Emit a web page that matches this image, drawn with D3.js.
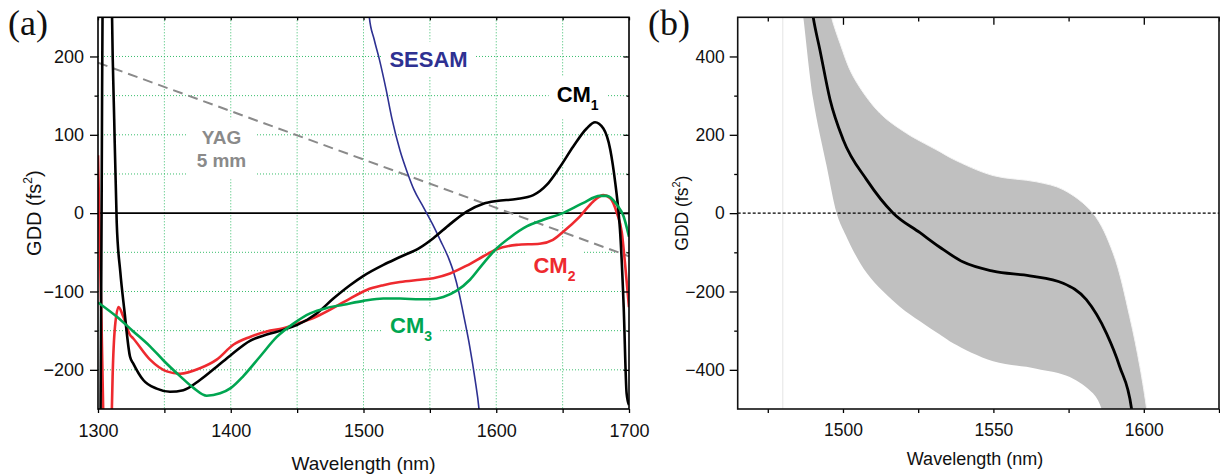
<!DOCTYPE html>
<html><head><meta charset="utf-8">
<script src="https://cdn.jsdelivr.net/npm/d3@7"></script>
<style>
body{margin:0;background:#fff}
svg{display:block}
text{font-family:"Liberation Sans",Arial,Helvetica,sans-serif}
</style>
</head><body>
<svg id="c" width="1220" height="476"></svg>
<script>
// ---------- Panel (a) data: wavelength (nm), GDD (fs^2) ----------
const cm1 = [[1301.5,-400],[1302.7,0],[1303.9,400],[1307,480],[1309.8,380],[1310.6,250],[1312.2,120],[1314.1,-12],[1316.8,-75],[1319.8,-123],[1324.1,-183],[1326.6,-192],[1334.1,-213],[1344.2,-224],[1354.2,-228],[1364.3,-226],[1376.8,-213],[1389.4,-196],[1400.2,-181],[1414.5,-163],[1427.1,-155],[1439.6,-149],[1449.7,-143],[1464.7,-128],[1477.3,-109],[1489.8,-92],[1500,-80],[1515,-66],[1527.5,-56],[1542.6,-44],[1552.6,-32],[1565.2,-14],[1577.7,2],[1590.3,12],[1600.3,15.5],[1615.3,18],[1627.9,23],[1638,36],[1648,59],[1658,85],[1668.1,108],[1674.4,116],[1680.7,108],[1685.9,81],[1689.7,38],[1692.2,0],[1693.2,-21],[1696,-120],[1698.2,-230],[1700,-245]];
const cm2 = [[1300,74],[1302,-90],[1304,-260],[1305,-400],[1309,-400],[1310.3,-260],[1311,-209],[1312.8,-145],[1315.5,-120],[1319,-132],[1324,-155],[1326.6,-160],[1339.2,-187],[1351.8,-202],[1361.8,-205],[1376.8,-198],[1389.4,-187],[1401.9,-168],[1414.5,-158],[1427.1,-151],[1439.6,-147],[1452.2,-140],[1464.7,-132],[1477.3,-121],[1489.8,-109],[1502.4,-98],[1514.9,-92],[1527.5,-88],[1542.6,-85],[1552.6,-83],[1565.2,-77],[1577.7,-67],[1590.3,-55],[1600.3,-46],[1615.3,-40.5],[1632.7,-39],[1642.7,-34],[1650.2,-24],[1663.1,-4],[1673.1,15],[1680.7,23],[1685.9,19],[1690.9,0],[1694.6,-25],[1697,-64],[1700,-120]];
const cm3 = [[1300,-114],[1314,-132],[1326.6,-151],[1339.2,-170],[1349.9,-189],[1361.8,-208],[1371.9,-223],[1381.9,-233],[1392,-230],[1400.2,-223],[1409.5,-208],[1422.1,-183],[1434.7,-158],[1447.2,-141],[1459.8,-128],[1472.3,-121],[1484.9,-117],[1500,-112],[1514.9,-109],[1527.5,-109],[1542.6,-110],[1550.1,-110],[1560.1,-107],[1570.2,-99],[1580.2,-85],[1590.3,-64],[1600.3,-45],[1610.4,-31],[1622.9,-17],[1635.5,-8.5],[1650.2,0],[1665.3,12.8],[1678.1,22],[1683.1,22],[1690.9,10.6],[1695.9,-4],[1700,-30]];
const sesam = [[1502.5,320],[1504.4,250],[1508,222],[1512,196],[1517,158],[1521.5,120],[1527.5,80],[1533,52],[1538,30],[1545,8],[1552,-14],[1558,-35],[1564,-57],[1568,-76],[1572,-102],[1576,-135],[1580,-170],[1584,-212],[1587,-250],[1588.5,-280]];
const yag = [[1300,192],[1700,-55]];

const xTicksA = [1300,1400,1500,1600,1700];
const xMinorA = [1350,1450,1550,1650];
const yTicksA = [-200,-100,0,100,200];
const yMinorA = [-150,-50,50,150];
const xGridA = [1350,1400,1450,1500,1550,1600,1650];
const yGridA = [-200,-150,-100,-50,50,100,150,200];

// ---------- Panel (b) data ----------
const gddMean = [[1489.5,530],[1490.1,500],[1492.3,418],[1495.7,290],[1500.1,187],[1507.9,85],[1516.7,0],[1525.6,-50],[1532.2,-87],[1540,-125],[1549.9,-148],[1562.1,-160],[1573.2,-179],[1580.9,-221],[1587.6,-307],[1592,-392],[1595.9,-498],[1596.3,-530]];
const gddUpper = [[1495.5,530],[1496.2,500],[1499,434],[1503.4,349],[1512.3,255],[1521.1,204],[1525.6,184],[1532.2,157],[1536.6,138],[1549.9,96],[1564.3,80],[1573.2,60],[1583.1,0],[1589.8,-102],[1595.3,-264],[1598.7,-392],[1600.9,-498],[1601.3,-530]];
const gddLower = [[1486.2,530],[1486.8,500],[1490.1,290],[1494.6,119],[1497.9,0],[1500.1,-43],[1507.9,-153],[1518.9,-239],[1525.6,-276],[1532.2,-310],[1536.6,-332],[1549.9,-378],[1564.3,-397],[1575.4,-418],[1583.1,-460],[1585.9,-498],[1586.5,-530]];
const refLineB = [1480];

const xTicksB = [1500,1550,1600];
const xMinorB = [1475,1525,1575,1625];
const yTicksB = [-400,-200,0,200,400];
const yMinorB = [-300,-100,100,300];

// ---------- Setup ----------
const svg = d3.select("#c");

const xa = d3.scaleLinear([1300,1700],[98,629]);
const ya = d3.scaleLinear([-250,250],[409,17.3]);
const xb = d3.scaleLinear([1465,1625],[737.7,1219]);
const yb = d3.scaleLinear([-500,500],[409,17.3]);

const fmt = d3.format("d");

function clip(id, x, y){
  svg.append("clipPath").attr("id", id).append("rect")
    .attr("x", x.range()[0]).attr("y", y.range()[1])
    .attr("width", x.range()[1]-x.range()[0]).attr("height", y.range()[0]-y.range()[1]);
}
clip("ca", xa, ya);
clip("cb", xb, yb);

function axis(gen, tx, ty, fs){
  const g = svg.append("g").attr("transform", `translate(${tx},${ty})`).call(gen);
  g.select(".domain").remove();
  g.selectAll("line").attr("stroke","#000").attr("stroke-width",1.3);
  g.selectAll("text").attr("font-size", fs || 18).attr("fill","#111")
    .style("font-family",'"Liberation Sans",Arial,sans-serif');
  return g;
}

// ======== Panel (a) ========
const gridA = svg.append("g").attr("clip-path","url(#ca)");
const gridStyle = s => s.attr("stroke","#25b85e").attr("stroke-width",1).attr("stroke-dasharray","1,2").attr("opacity",0.9);
gridA.selectAll("line.v").data(xGridA).join("line")
  .attr("x1", d=>xa(d)).attr("x2", d=>xa(d)).attr("y1", ya(250)).attr("y2", ya(-250)).call(gridStyle);
gridA.selectAll("line.h").data(yGridA).join("line")
  .attr("x1", xa(1300)).attr("x2", xa(1700)).attr("y1", d=>ya(d)).attr("y2", d=>ya(d)).call(gridStyle);

const boxLayer = svg.append("g");
const curveA = svg.append("g").attr("clip-path","url(#ca)");
const textLayer = svg.append("g");

curveA.append("line").attr("x1",xa(1300)).attr("x2",xa(1700)).attr("y1",ya(0)).attr("y2",ya(0))
  .attr("stroke","#000").attr("stroke-width",1.6);

const lineA = d3.line().x(d=>xa(d[0])).y(d=>ya(d[1])).curve(d3.curveMonotoneX);
curveA.append("path").attr("d", d3.line().x(d=>xa(d[0])).y(d=>ya(d[1]))(yag))
  .attr("fill","none").attr("stroke","#8a8a8a").attr("stroke-width",2).attr("stroke-dasharray","10,6");
curveA.append("path").attr("d", lineA(sesam)).attr("fill","none").attr("stroke","#2e3192").attr("stroke-width",1.6);
curveA.append("path").attr("d", lineA(cm2)).attr("fill","none").attr("stroke","#ee2a2f").attr("stroke-width",2.6);
curveA.append("path").attr("d", lineA(cm1)).attr("fill","none").attr("stroke","#000").attr("stroke-width",2.6);
curveA.append("path").attr("d", lineA(cm3)).attr("fill","none").attr("stroke","#00a651").attr("stroke-width",2.6);

function label(lines, xv, yv, color, fs, anchor, padX, padY){
  const t = textLayer.append("text").attr("x", xa(xv)).attr("y", ya(yv))
    .attr("fill", color).attr("font-weight","bold").attr("font-size", fs).attr("text-anchor", anchor);
  lines(t);
  const b = t.node().getBBox();
  boxLayer.append("rect").attr("x", b.x-padX).attr("y", b.y-padY)
    .attr("width", b.width+2*padX).attr("height", b.height+2*padY).attr("fill","#fff");
  return t;
}
label(t=>t.text("SESAM"), 1549, 187, "#2e3192", 22, "middle", 8, 5);
label(t=>{t.append("tspan").text("CM"); t.append("tspan").attr("font-size",14).attr("dy",8).text("1");}, 1645.5, 141.6, "#000", 22, "start", 8, 6);
label(t=>{t.append("tspan").text("CM"); t.append("tspan").attr("font-size",14).attr("dy",8).text("2");}, 1628, -76.6, "#ee2a2f", 22, "start", 8, 6);
label(t=>{t.append("tspan").text("CM"); t.append("tspan").attr("font-size",14).attr("dy",8).text("3");}, 1520, -153, "#00a651", 22, "start", 8, 6);
label(t=>{t.append("tspan").attr("x", xa(1393)).text("YAG"); t.append("tspan").attr("x", xa(1393)).attr("dy",23).text("5 mm");}, 1393, 88, "#8a8a8a", 19, "middle", 9, 8);

axis(d3.axisBottom(xa).tickValues(xTicksA).tickSize(4).tickPadding(11).tickFormat(fmt), 0, ya(-250), 18);
axis(d3.axisBottom(xa).tickValues(xMinorA).tickSize(4).tickFormat(""), 0, ya(-250));
axis(d3.axisLeft(ya).tickValues(yTicksA).tickSize(8).tickPadding(6).tickFormat(fmt), xa(1300), 0, 18);
axis(d3.axisLeft(ya).tickValues(yMinorA).tickSize(3.5).tickFormat(""), xa(1300), 0);
axis(d3.axisTop(xa).tickValues(xTicksA.concat(xMinorA)).tickSize(-3).tickFormat(""), 0, ya(250));
axis(d3.axisRight(ya).tickValues(yTicksA).tickSize(-5.5).tickFormat(""), xa(1700), 0);
axis(d3.axisRight(ya).tickValues(yMinorA).tickSize(-2.5).tickFormat(""), xa(1700), 0);
svg.append("rect").attr("x",xa(1300)).attr("y",ya(250)).attr("width",xa(1700)-xa(1300)).attr("height",ya(-250)-ya(250))
  .attr("fill","none").attr("stroke","#000").attr("stroke-width",1.6);

svg.append("text").attr("x",(xa(1300)+xa(1700))/2).attr("y",470).attr("text-anchor","middle").attr("font-size",19).attr("fill","#111").text("Wavelength (nm)");
const ytA = svg.append("text").attr("transform",`translate(41,${(ya(250)+ya(-250))/2}) rotate(-90)`).attr("text-anchor","middle").attr("font-size",20).attr("fill","#111");
ytA.append("tspan").text("GDD (fs");
ytA.append("tspan").attr("font-size",12).attr("dy",-9).text("2");
ytA.append("tspan").attr("dy",9).text(")");
svg.append("text").attr("x",8).attr("y",35).attr("font-size",36).attr("fill","#111").style("font-family",'"Liberation Serif","Times New Roman",serif').text("(a)");

// ======== Panel (b) ========
const gB = svg.append("g").attr("clip-path","url(#cb)");
gB.selectAll("line.ref").data(refLineB).join("line")
  .attr("x1",d=>xb(d)).attr("x2",d=>xb(d)).attr("y1",yb(500)).attr("y2",yb(-500))
  .attr("stroke","#e4e4e4").attr("stroke-width",1);
const lineB = d3.line().x(d=>xb(d[0])).y(d=>yb(d[1])).curve(d3.curveMonotoneX);
const bandPts = gddUpper.concat(gddLower.slice().reverse());
gB.append("path").attr("d", d3.line().x(d=>xb(d[0])).y(d=>yb(d[1])).curve(d3.curveCatmullRomClosed.alpha(0.5))(bandPts))
  .attr("fill","#c0c0c0").attr("stroke","none");
gB.append("path").attr("d", d3.line().x(d=>xb(d[0])).y(d=>yb(d[1])).curve(d3.curveCatmullRom.alpha(0.5))(gddUpper))
  .attr("fill","none").attr("stroke","#f4f4f4").attr("stroke-width",1);
gB.append("line").attr("x1",xb(1465)).attr("x2",xb(1625)).attr("y1",yb(0)).attr("y2",yb(0))
  .attr("stroke","#000").attr("stroke-width",1.2).attr("stroke-dasharray","3,2");
gB.append("path").attr("d", lineB(gddMean)).attr("fill","none").attr("stroke","#000").attr("stroke-width",2.8);

axis(d3.axisBottom(xb).tickValues(xTicksB).tickSize(4).tickPadding(11).tickFormat(fmt), 0, yb(-500), 17.5);
axis(d3.axisBottom(xb).tickValues(xMinorB).tickSize(4).tickFormat(""), 0, yb(-500));
axis(d3.axisLeft(yb).tickValues(yTicksB).tickSize(8).tickPadding(5).tickFormat(fmt), xb(1465), 0, 17.5);
axis(d3.axisLeft(yb).tickValues(yMinorB).tickSize(3.5).tickFormat(""), xb(1465), 0);
axis(d3.axisTop(xb).tickValues(xTicksB).tickSize(-7.5).tickFormat(""), 0, yb(500));
axis(d3.axisTop(xb).tickValues(xMinorB).tickSize(-4.3).tickFormat(""), 0, yb(500));
svg.append("rect").attr("x",xb(1465)).attr("y",yb(500)).attr("width",xb(1625)-xb(1465)).attr("height",yb(-500)-yb(500))
  .attr("fill","none").attr("stroke","#111").attr("stroke-width",1.6);

svg.append("text").attr("x",975).attr("y",465).attr("text-anchor","middle").attr("font-size",18).attr("fill","#111").text("Wavelength (nm)");
const ytB = svg.append("text").attr("transform",`translate(688,${(yb(500)+yb(-500))/2}) rotate(-90)`).attr("text-anchor","middle").attr("font-size",17.5).attr("fill","#111");
ytB.append("tspan").text("GDD (fs");
ytB.append("tspan").attr("font-size",11).attr("dy",-8).text("2");
ytB.append("tspan").attr("dy",8).text(")");
svg.append("text").attr("x",648).attr("y",35).attr("font-size",36).attr("fill","#111").style("font-family",'"Liberation Serif","Times New Roman",serif').text("(b)");
</script>
</body></html>
